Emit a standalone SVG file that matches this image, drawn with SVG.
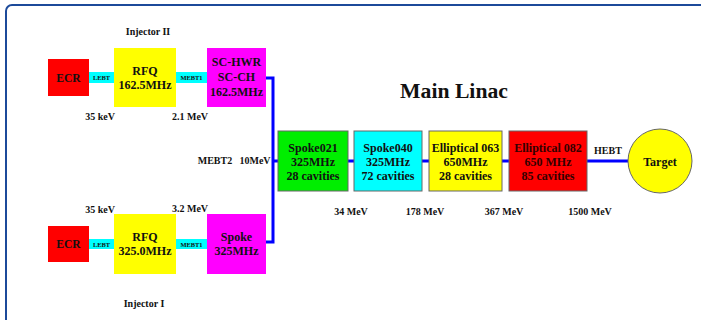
<svg xmlns="http://www.w3.org/2000/svg" width="701" height="320" viewBox="0 0 701 320">
<style>
text{font-family:"Liberation Serif","Times New Roman",serif;font-weight:bold;fill:#111;text-anchor:middle}
.s{font-size:10px}
.b{font-size:12px}
.e{font-size:11.5px}
.m{font-size:12px}
.t{font-size:6.4px}
.box{stroke:#666;stroke-width:1}
.bar{fill:#00ffff}
.line{stroke:#0000ff;stroke-width:3;fill:none}
</style>
<rect width="701" height="320" fill="#fff"/>
<rect x="6" y="5" width="720" height="340" rx="6" fill="none" stroke="#1c4a9a" stroke-width="2"/>
<g id="connectors">
<path class="line" d="M266 78H273V242H266"/>
<path class="line" d="M273 161H278M348 161H354M422 161H429M502 161H509M587 161H628"/>
<rect class="bar" x="89" y="72" width="25" height="11"/>
<rect class="bar" x="176" y="72" width="31" height="11"/>
<rect class="bar" x="89" y="239" width="25" height="10"/>
<rect class="bar" x="176" y="239" width="31" height="10"/>
<text class="t" x="101.5" y="80">LEBT</text>
<text class="t" x="191.5" y="80">MEBT1</text>
<text class="t" x="101.5" y="246.5">LEBT</text>
<text class="t" x="191.5" y="246.5">MEBT1</text>
<text class="s" x="608" y="153.5">HEBT</text>
<text class="s" x="215" y="164">MEBT2</text>
<text class="s" x="255" y="164">10MeV</text>
</g>
<g id="labels">
<text class="s" x="148" y="34.5">Injector II</text>
<text class="s" x="144" y="307">Injector I</text>
<text class="s" x="100" y="120">35 keV</text>
<text class="s" x="190" y="120">2.1 MeV</text>
<text class="s" x="100" y="213">35 keV</text>
<text class="s" x="190" y="212">3.2 MeV</text>
<text class="s" x="351" y="215">34 MeV</text>
<text class="s" x="425" y="215">178 MeV</text>
<text class="s" x="504" y="215">367 MeV</text>
<text class="s" x="590" y="215">1500 MeV</text>
<text x="454" y="98" style="font-size:21.7px">Main Linac</text>
</g>
<g id="ecr2"><rect x="48" y="59" width="41" height="37" fill="#ff0000"/><text class="e" x="68.5" y="82">ECR</text></g>
<g id="rfq2"><rect x="114" y="48" width="62" height="59" fill="#ffff00"/><text class="b" x="145" y="75">RFQ</text><text class="b" x="145" y="88.5">162.5MHz</text></g>
<g id="schwr"><rect x="207" y="48" width="59" height="59" fill="#ff00ff"/><text class="b" x="236.5" y="66">SC-HWR</text><text class="b" x="236.5" y="81">SC-CH</text><text class="b" x="236.5" y="96">162.5MHz</text></g>
<g id="ecr1"><rect x="48" y="226" width="41" height="36" fill="#ff0000"/><text class="e" x="68.5" y="248">ECR</text></g>
<g id="rfq1"><rect x="114" y="214" width="62" height="60" fill="#ffff00"/><text class="b" x="145" y="241">RFQ</text><text class="b" x="145" y="254.5">325.0MHz</text></g>
<g id="spoke"><rect x="207" y="214" width="59" height="60" fill="#ff00ff"/><text class="b" x="236.5" y="241">Spoke</text><text class="b" x="236.5" y="254.5">325MHz</text></g>
<g id="spoke021"><rect class="box" x="278" y="131" width="70" height="60" fill="#00ee00"/><text class="m" x="313" y="151.5">Spoke021</text><text class="m" x="313" y="165.5">325MHz</text><text class="m" x="313" y="179.5">28 cavities</text></g>
<g id="spoke040"><rect class="box" x="354" y="131" width="68" height="60" fill="#00ffff"/><text class="m" x="388" y="151.5">Spoke040</text><text class="m" x="388" y="165.5">325MHz</text><text class="m" x="388" y="179.5">72 cavities</text></g>
<g id="ell063"><rect class="box" x="429" y="131" width="73" height="60" fill="#ffff00"/><text class="m" x="465.5" y="151.5">Elliptical 063</text><text class="m" x="465.5" y="165.5">650MHz</text><text class="m" x="465.5" y="179.5">28 cavities</text></g>
<g id="ell082"><rect class="box" x="509" y="131" width="78" height="60" fill="#ff0000"/><text class="m" x="548" y="151.5" style="fill:#300">Elliptical 082</text><text class="m" x="548" y="165.5" style="fill:#300">650 MHz</text><text class="m" x="548" y="179.5" style="fill:#300">85 cavities</text></g>
<g id="target"><circle class="box" cx="660" cy="161" r="32" fill="#ffff00"/><text class="m" x="660" y="165.5">Target</text></g>
</svg>
